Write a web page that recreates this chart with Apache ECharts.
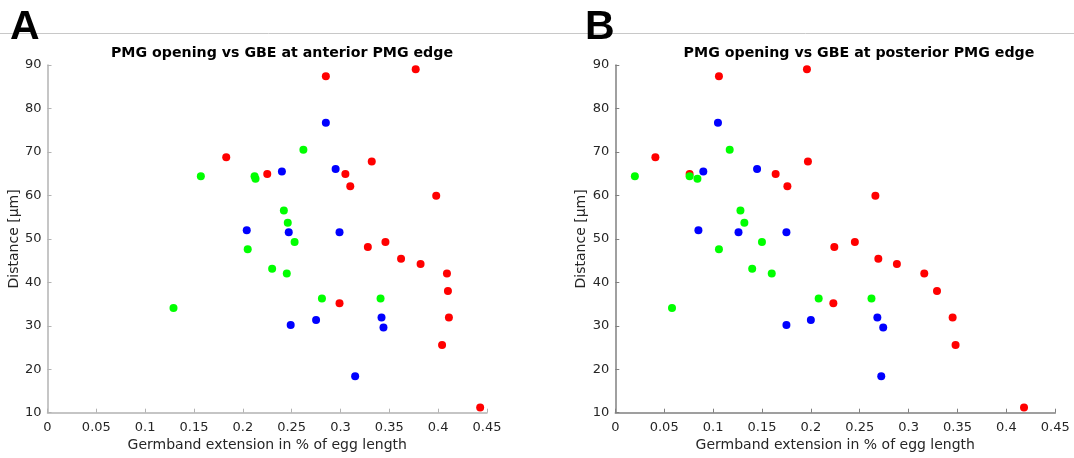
<!DOCTYPE html>
<html>
<head>
<meta charset="utf-8">
<script src="https://cdn.jsdelivr.net/npm/echarts@6/dist/echarts.min.js"></script>
<style>
html,body{margin:0;padding:0;background:#fff;}
#c{width:1074px;height:458px;}
</style>
</head>
<body>
<div id="c"></div>
<script>
// ---- Data ----
var titles = ['PMG opening vs GBE at anterior PMG edge', 'PMG opening vs GBE at posterior PMG edge'];
var panelLetters = ['A', 'B'];
var xAxisName = 'Germband extension in % of egg length';
var yAxisName = 'Distance [\u00b5m]';

// distances (µm) per group (shared between panels)
var redY   = [87.4, 89.0, 68.8, 64.9, 64.9, 67.8, 62.1, 59.9, 48.1, 49.3, 45.4, 44.2, 42.0, 38.0, 35.2, 31.9, 25.6, 11.2];
var redXA  = [0.285, 0.377, 0.183, 0.225, 0.305, 0.332, 0.310, 0.398, 0.328, 0.346, 0.362, 0.382, 0.409, 0.410, 0.299, 0.411, 0.404, 0.443];
var redXB  = [0.106, 0.196, 0.041, 0.076, 0.164, 0.197, 0.176, 0.266, 0.224, 0.245, 0.269, 0.288, 0.316, 0.329, 0.223, 0.345, 0.348, 0.418];

var blueY  = [76.7, 65.5, 66.1, 52.0, 51.5, 51.5, 30.2, 31.3, 31.9, 29.6, 18.4];
var blueXA = [0.285, 0.240, 0.295, 0.204, 0.247, 0.299, 0.249, 0.275, 0.342, 0.344, 0.315];
var blueXB = [0.105, 0.090, 0.145, 0.085, 0.126, 0.175, 0.175, 0.200, 0.268, 0.274, 0.272];

var greenY  = [64.4, 64.4, 63.8, 70.5, 56.5, 53.7, 49.3, 47.6, 43.1, 42.0, 34.1, 36.3, 36.3];
var greenXA = [0.157, 0.212, 0.213, 0.262, 0.242, 0.246, 0.253, 0.205, 0.230, 0.245, 0.129, 0.281, 0.341];
var greenXB = [0.020, 0.076, 0.084, 0.117, 0.128, 0.132, 0.150, 0.106, 0.140, 0.160, 0.058, 0.208, 0.262];

function pairs(xs, ys){ return xs.map(function(x,i){ return [x, ys[i]]; }); }

var chart = echarts.init(document.getElementById('c'), null, {renderer:'canvas'});
var font = 'DejaVu Sans';
var grids = [
  {left:47.5, top:65, width:439.5, height:347.7},
  {left:615.3, top:65, width:440, height:347.7}
];
var axisColors = ['#b3b3b3', '#808080'];

function xAxis(i){
  return {
    type:'value', gridIndex:i, min:0, max:0.45, interval:0.05,
    name: xAxisName, nameLocation:'middle', nameGap:26,
    nameTextStyle:{fontFamily:font, fontSize:14, color:'#262626'},
    axisLine:{show:true, onZero:false, lineStyle:{color:axisColors[i], width:1.5}},
    axisTick:{show:true, inside:true, length:4, lineStyle:{color:axisColors[i]}},
    axisLabel:{fontFamily:font, fontSize:13, color:'#262626', margin:8,
      formatter:function(v){ return String(parseFloat(v.toFixed(2))); }},
    splitLine:{show:false}
  };
}
function yAxis(i){
  return {
    type:'value', gridIndex:i, min:10, max:90, interval:10,
    name: yAxisName, nameLocation:'middle', nameGap:25,
    nameTextStyle:{fontFamily:font, fontSize:14, color:'#262626'},
    axisLine:{show:true, onZero:false, lineStyle:{color:axisColors[i], width:1.5}},
    axisTick:{show:true, inside:true, length:4, lineStyle:{color:axisColors[i]}},
    axisLabel:{fontFamily:font, fontSize:13, color:'#262626', margin:6},
    splitLine:{show:false}
  };
}
function sc(i, data, color){
  return {type:'scatter', xAxisIndex:i, yAxisIndex:i, data:data, symbol:'circle', symbolSize:8,
    itemStyle:{color:color, opacity:1}, silent:true, animation:false};
}

chart.setOption({
  animation:false,
  backgroundColor:'#fff',
  grid: grids,
  xAxis:[xAxis(0), xAxis(1)],
  yAxis:[yAxis(0), yAxis(1)],
  series:[
    sc(0, pairs(redXA, redY), '#ff0000'),
    sc(0, pairs(greenXA, greenY), '#00ff00'),
    sc(0, pairs(blueXA, blueY), '#0000ff'),
    sc(1, pairs(redXB, redY), '#ff0000'),
    sc(1, pairs(greenXB, greenY), '#00ff00'),
    sc(1, pairs(blueXB, blueY), '#0000ff')
  ],
  graphic:[
    {type:'line', shape:{x1:0, y1:33.5, x2:1074, y2:33.5}, style:{stroke:'#c8c8c8', lineWidth:1}, z:1},
    {type:'text', x:282, y:53, z:10, style:{text:titles[0], fontFamily:font, fontWeight:'bold', fontSize:14.2, fill:'#000', align:'center', verticalAlign:'middle'}},
    {type:'text', x:859, y:53, z:10, style:{text:titles[1], fontFamily:font, fontWeight:'bold', fontSize:14.2, fill:'#000', align:'center', verticalAlign:'middle'}},
    {type:'text', x:10, y:28, z:10, style:{text:panelLetters[0], fontFamily:'Liberation Sans', fontWeight:'bold', fontSize:41, fill:'#000', align:'left', verticalAlign:'middle'}},
    {type:'text', x:585, y:28, z:10, style:{text:panelLetters[1], fontFamily:'Liberation Sans', fontWeight:'bold', fontSize:41, fill:'#000', align:'left', verticalAlign:'middle'}}
  ]
});
</script>
</body>
</html>
